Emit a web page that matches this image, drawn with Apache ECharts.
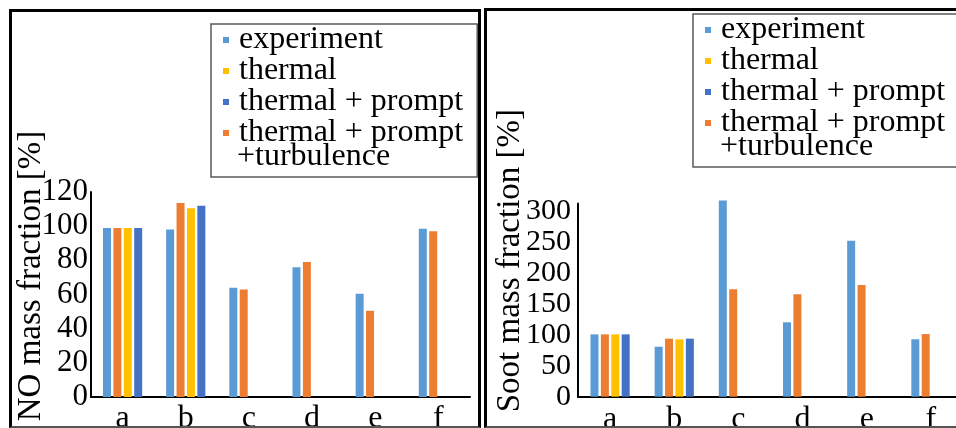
<!DOCTYPE html>
<html>
<head>
<meta charset="UTF-8">
<title>NO and soot mass fraction</title>
<script src="https://cdn.jsdelivr.net/npm/echarts@6/dist/echarts.min.js"></script>
<style>
  html, body { margin: 0; padding: 0; background: #fff; overflow: hidden; }
  #chart { position: absolute; left: 0; top: 0; width: 956px; height: 428px; }
  .panel { position: absolute; border: 3px solid #000; border-bottom: 2px solid #555; box-sizing: border-box; pointer-events: none; }
  #p1 { left: 9px; top: 9px; width: 472px; height: 419px; }
  #p2 { left: 484px; top: 8px; width: 490px; height: 420px; }
</style>
</head>
<body>
<div id="chart"></div>
<div class="panel" id="p1"></div>
<div class="panel" id="p2"></div>
<script>
// cases
const categories = ['a', 'b', 'c', 'd', 'e', 'f'];

// NO mass fraction [%]
const noExperiment = [99, 98, 64, 76, 60.5, 98.5];
const noTurbulence = [99, 113.5, 63, 79, 50.5, 97];
const noThermal = [99, 110.5, '-', '-', '-', '-'];
const noPrompt = [99, 112, '-', '-', '-', '-'];

// Soot mass fraction [%]
const sootExperiment = [101, 81, 318, 120.5, 252.5, 93];
const sootTurbulence = [101, 94, 174, 166, 181, 101.5];
const sootThermal = [101, 93, '-', '-', '-', '-'];
const sootPrompt = [101, 94, '-', '-', '-', '-'];

const names = ['experiment', 'thermal', 'thermal + prompt', 'thermal + prompt +turbulence'];
const colors = {
  'experiment': '#5B9BD5',
  'thermal': '#FFC000',
  'thermal + prompt': '#4472C4',
  'thermal + prompt +turbulence': '#ED7D31'
};

const FONT = "'Liberation Serif', 'Times New Roman', serif";

const chart = echarts.init(document.getElementById('chart'));

function legendFor(left, top) {
  return {
    orient: 'vertical',
    left: left,
    top: top,
    data: names,
    icon: 'rect',
    itemWidth: 6,
    itemHeight: 6,
    itemGap: -1,
    padding: [0, 14, 28, 12],
    borderColor: '#595959',
    borderWidth: 1.5,
    selectedMode: false,
    formatter: n => n.replace(' +turbulence', ''),
    textStyle: { fontFamily: FONT, fontSize: 32, lineHeight: 30, color: '#000', padding: [0, 0, 0, 5] }
  };
}

function bar(name, data, idx) {
  return {
    name: name,
    type: 'bar',
    xAxisIndex: idx,
    yAxisIndex: idx,
    data: data,
    barWidth: 8,
    barGap: '30%',
    clip: false,
    itemStyle: { color: colors[name] }
  };
}

function xAxisFor(idx, margin) {
  return {
    gridIndex: idx,
    type: 'category',
    data: categories,
    axisLine: { lineStyle: { color: '#000', width: 2 } },
    axisTick: { show: false },
    axisLabel: { fontFamily: FONT, fontSize: 32, color: '#000', margin: margin }
  };
}

chart.setOption({
  animation: false,
  grid: [
    { left: 91, top: 192, width: 379, height: 205, outerBoundsMode: 'none', containLabel: false },
    { left: 578, top: 203.5, width: 385, height: 193.2, outerBoundsMode: 'none', containLabel: false }
  ],
  legend: [legendFor(211, 24), legendFor(693, 14)],
  xAxis: [xAxisFor(0, 6), xAxisFor(1, 7)],
  yAxis: [
    {
      gridIndex: 0,
      type: 'value',
      min: 0, max: 120, interval: 20,
      name: 'NO mass fraction [%]',
      nameLocation: 'middle',
      nameGap: 43,
      nameMoveOverlap: false,
      nameTextStyle: { fontFamily: FONT, fontSize: 33, color: '#000', padding: [0, 0, 0, 37] },
      axisLine: { show: true, lineStyle: { color: '#000', width: 2 } },
      axisTick: { show: false },
      splitLine: { show: false },
      axisLabel: { fontFamily: FONT, fontSize: 31, color: '#000', margin: 3, showMinLabel: true, hideOverlap: false }
    },
    {
      gridIndex: 1,
      type: 'value',
      min: 0, max: 313, interval: 50,
      name: 'Soot mass fraction [%]',
      nameLocation: 'middle',
      nameGap: 51,
      nameMoveOverlap: false,
      nameTextStyle: { fontFamily: FONT, fontSize: 33, color: '#000', padding: [0, 0, 0, 79] },
      axisLine: { show: true, lineStyle: { color: '#000', width: 2 } },
      axisTick: { show: false },
      splitLine: { show: false },
      axisLabel: { fontFamily: FONT, fontSize: 30, color: '#000', margin: 7, showMinLabel: true, showMaxLabel: false, hideOverlap: false }
    }
  ],
  graphic: [
    { type: 'text', left: 237, top: 141, style: { text: '+turbulence', font: '32px ' + FONT, fill: '#000' } },
    { type: 'text', left: 720, top: 131, style: { text: '+turbulence', font: '32px ' + FONT, fill: '#000' } }
  ],
  series: [
    bar('experiment', noExperiment, 0),
    bar('thermal + prompt +turbulence', noTurbulence, 0),
    bar('thermal', noThermal, 0),
    bar('thermal + prompt', noPrompt, 0),
    bar('experiment', sootExperiment, 1),
    bar('thermal + prompt +turbulence', sootTurbulence, 1),
    bar('thermal', sootThermal, 1),
    bar('thermal + prompt', sootPrompt, 1)
  ]
});
</script>
</body>
</html>
